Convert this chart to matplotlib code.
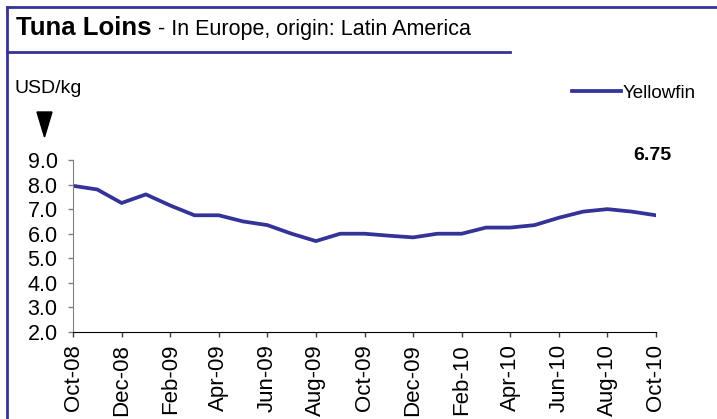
import matplotlib
matplotlib.use("Agg")
import matplotlib.pyplot as plt
from matplotlib.lines import Line2D
from matplotlib.patches import Polygon

plt.rcParams['font.family'] = ['Liberation Sans', 'DejaVu Sans']

# monthly prices, Oct-08 .. Oct-10
months = ['Oct-08', 'Nov-08', 'Dec-08', 'Jan-09', 'Feb-09', 'Mar-09', 'Apr-09',
          'May-09', 'Jun-09', 'Jul-09', 'Aug-09', 'Sep-09', 'Oct-09', 'Nov-09',
          'Dec-09', 'Jan-10', 'Feb-10', 'Mar-10', 'Apr-10', 'May-10', 'Jun-10',
          'Jul-10', 'Aug-10', 'Sep-10', 'Oct-10']
yellowfin = [7.95, 7.80, 7.25, 7.60, 7.15, 6.75, 6.75, 6.50, 6.35, 6.00, 5.70,
             6.00, 6.00, 5.92, 5.85, 6.00, 6.00, 6.25, 6.25, 6.35, 6.65, 6.90,
             7.00, 6.90, 6.75]
yticks = [2.0, 3.0, 4.0, 5.0, 6.0, 7.0, 8.0, 9.0]

W, H = 717, 419
blue = '#333399'

def fx(px):
    return px / W

def fy(py):
    return 1 - py / H

fig = plt.figure(figsize=(W / 100, H / 100), dpi=100)
ax = fig.add_axes([fx(73), fy(332), fx(656) - fx(73), fy(160) - fy(332)])

x = list(range(len(months)))
ax.plot(x, yellowfin, color=blue, lw=2.7, solid_joinstyle='round', label='Yellowfin')

ax.set_xlim(0, len(months) - 1)
ax.set_ylim(2.0, 9.0)
ax.set_yticks(yticks)
ax.set_yticklabels([f'{v:.1f}' for v in yticks], fontsize=15.5)
ax.set_xticks(x[::2])
ax.set_xticklabels(months[::2], rotation=90, fontsize=16)
ax.tick_params(axis='y', length=3.6, width=1, color='#808080', pad=7.5)
ax.tick_params(axis='x', length=3.6, width=1, color='#404040', pad=5)
for s in ['top', 'right']:
    ax.spines[s].set_visible(False)
ax.spines['left'].set_color('#808080')
ax.spines['bottom'].set_color('#000000')

# legend
ax.legend(loc='center left', bbox_to_anchor=(fx(572), fy(93)), bbox_transform=fig.transFigure,
          frameon=False, fontsize=13.5, handlelength=2.6, handletextpad=0.12,
          borderpad=0, borderaxespad=0)

# last value label
fig.text(fx(652), fy(156), f'{yellowfin[-1]:.2f}', fontsize=14, fontweight='bold',
         ha='center', va='center')

# title block
fig.text(fx(16), fy(35), 'Tuna Loins', fontsize=18.5, fontweight='bold', va='baseline')
fig.text(fx(158), fy(35), '- In Europe, origin: Latin America', fontsize=15.5, va='baseline')
fig.text(fx(15), fy(93), 'USD/kg', fontsize=14, va='baseline')

# frame lines
fig.add_artist(Line2D([fx(7), fx(7)], [fy(7), 0], color=blue, lw=2))
fig.add_artist(Line2D([fx(7), 1], [fy(7), fy(7)], color=blue, lw=2))
fig.add_artist(Line2D([fx(7), fx(510)], [fy(52), fy(52)], color=blue, lw=2))

# down arrow under the unit
fig.add_artist(Polygon([[fx(37), fy(112)], [fx(52), fy(112)], [fx(44.5), fy(137)]],
                       closed=True, color='black', transform=fig.transFigure))

fig.savefig('out.png', dpi=100)
